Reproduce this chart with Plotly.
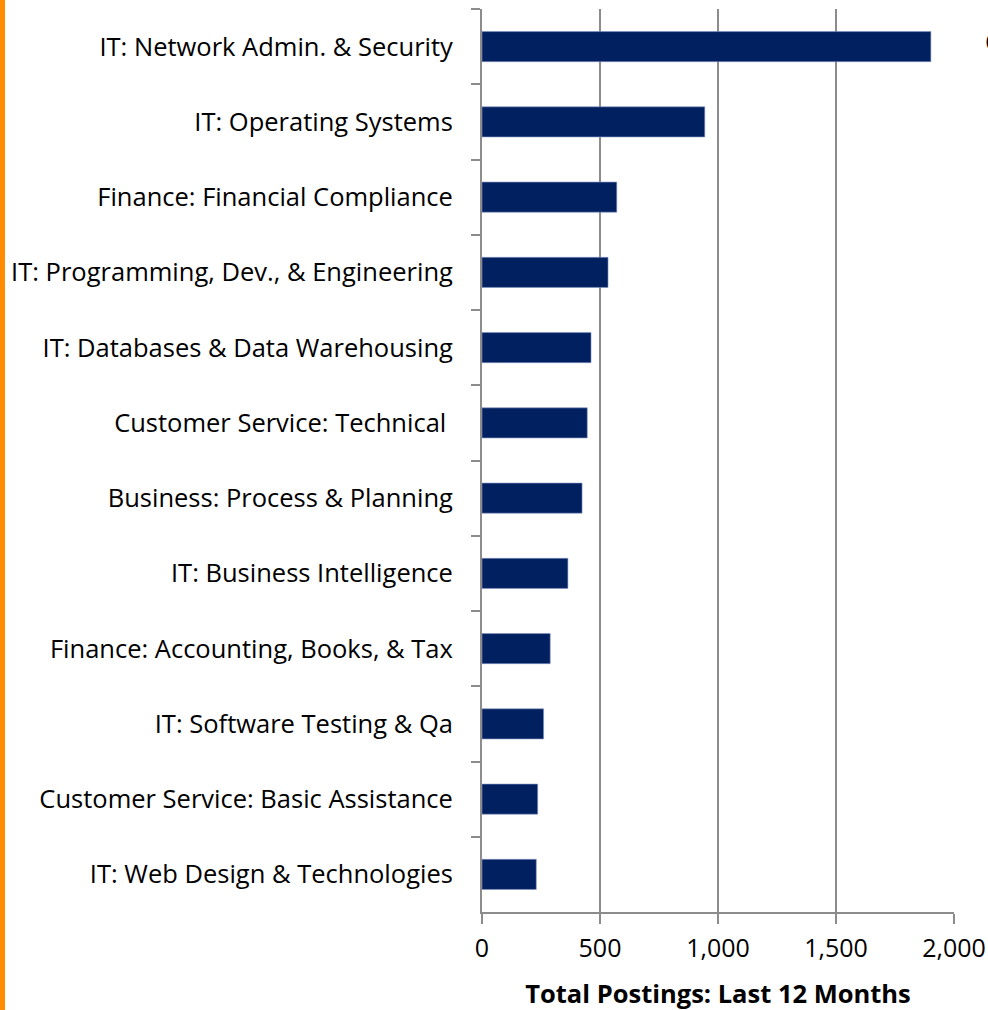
import plotly.graph_objects as go

categories = [
    "IT: Network Admin. & Security",
    "IT: Operating Systems",
    "Finance: Financial Compliance",
    "IT: Programming, Dev., & Engineering",
    "IT: Databases & Data Warehousing",
    "Customer Service: Technical\u00a0",
    "Business: Process & Planning",
    "IT: Business Intelligence",
    "Finance: Accounting, Books, & Tax",
    "IT: Software Testing & Qa",
    "Customer Service: Basic Assistance",
    "IT: Web Design & Technologies",
]
postings = [1902, 944, 571, 534, 462, 446, 424, 364, 289, 261, 236, 230]

x_ticks = [0, 500, 1000, 1500, 2000]
x_ticklabels = ["0", "500", "1,000", "1,500", "2,000"]

W, H = 988, 1010
ML, MR, MT, MB = 482, 34, 9, 98
PW = W - ML - MR
PH = H - MT - MB

fig = go.Figure()
fig.add_trace(go.Bar(
    x=postings, y=categories, orientation="h",
    marker=dict(color="#002060", line=dict(color="#8496c4", width=0.6)),
    width=0.4,
))

fig.update_layout(
    width=W, height=H,
    margin=dict(l=ML, r=MR, t=MT, b=MB, autoexpand=False),
    paper_bgcolor="white", plot_bgcolor="white",
    font=dict(family="Open Sans, Noto Sans, sans-serif", size=25, color="#000"),
    showlegend=False,
    xaxis=dict(
        range=[0, 2000], tickvals=x_ticks, ticktext=x_ticklabels,
        showgrid=True, gridcolor="#8c8c8c", gridwidth=2,
        ticks="outside", ticklen=10, tickcolor="#8c8c8c", tickwidth=2,
        showline=True, linecolor="#8c8c8c", linewidth=2,
        zeroline=False, ticklabelstandoff=3, automargin=False,
        tickfont=dict(size=25),
        title=dict(text="<b>Total Postings: Last 12 Months</b>",
                   font=dict(size=25.5), standoff=24),
    ),
    yaxis=dict(
        autorange="reversed", type="category",
        tickson="boundaries", ticks="outside", ticklen=9,
        tickcolor="#8c8c8c", tickwidth=2,
        showline=True, linecolor="#8c8c8c", linewidth=2,
        showgrid=False, zeroline=False, ticklabelstandoff=22,
        automargin=False,
        tickfont=dict(size=25.5),
    ),
    bargap=0.6,
)

fig.add_shape(type="rect", xref="paper", yref="paper",
              x0=-ML / PW, x1=(5 - ML) / PW, y0=-MB / PH - 0.01,
              y1=1 + MT / PH + 0.01,
              fillcolor="#ff8c00", line=dict(width=0), layer="above")

fig.add_annotation(xref="paper", yref="paper", x=(983 - ML) / PW,
                   y=1 - (41 - MT) / PH, xanchor="left", yanchor="middle",
                   text="C", showarrow=False, font=dict(size=25))

fig.write_html("out.html", config={"displayModeBar": False},
               post_script="document.body.style.margin='0';document.body.style.overflow='hidden';")
